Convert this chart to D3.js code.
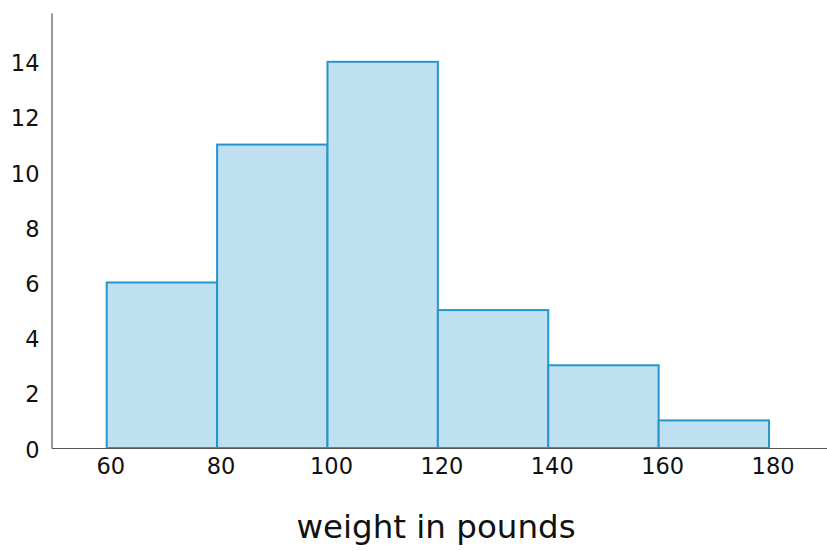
<!DOCTYPE html>
<html><head><meta charset="utf-8">
<script src="https://cdn.jsdelivr.net/npm/d3@7"></script>
<style>body{margin:0;background:#fff}svg{display:block}</style>
</head><body>
<svg id="c" width="827" height="551"></svg>
<script>
const binStarts = [60, 80, 100, 120, 140, 160];
const binWidth = 20;
const counts = [6, 11, 14, 5, 3, 1];
const xTicks = [60, 80, 100, 120, 140, 160, 180];
const yTicks = [0, 2, 4, 6, 8, 10, 12, 14];
const xTitle = "weight in pounds";

const svg = d3.select("#c");
const font = "'DejaVu Sans', sans-serif";
const x = d3.scaleLinear().domain([50, 190.5]).range([51.5, 827]);
const y = d3.scaleLinear().domain([0, 15.77]).range([448, 13]);

svg.selectAll("rect.bar").data(binStarts).join("rect")
  .attr("class", "bar")
  .attr("x", d => x(d))
  .attr("y", (d, i) => y(counts[i]))
  .attr("width", d => x(d + binWidth) - x(d))
  .attr("height", (d, i) => y(0) - y(counts[i]))
  .attr("fill", "#bfe0f0")
  .attr("stroke", "#2596cc")
  .attr("stroke-width", 2);

const xAxis = svg.append("g").attr("transform", "translate(0,448)")
  .call(d3.axisBottom(x).tickValues(xTicks).tickSize(0).tickPadding(10).tickFormat(d3.format("d")));
xAxis.select(".domain").attr("stroke", "#555").attr("stroke-width", 1.2);
xAxis.selectAll("text").attr("font-family", font).attr("font-size", 22.5).attr("fill", "#111").attr("dx", 3.5);

const yAxis = svg.append("g").attr("transform", "translate(51.5,0)")
  .call(d3.axisLeft(y).tickValues(yTicks).tickSize(0).tickPadding(12).tickFormat(d3.format("d")));
yAxis.select(".domain").attr("stroke", "#555").attr("stroke-width", 1.2);
yAxis.selectAll("text").attr("font-family", font).attr("font-size", 22.5).attr("fill", "#111").attr("dy", "0.4em");

svg.append("text").attr("x", 436).attr("y", 538)
  .attr("text-anchor", "middle").attr("font-family", font).attr("font-size", 32.5)
  .attr("fill", "#111").text(xTitle);
</script>
</body></html>
